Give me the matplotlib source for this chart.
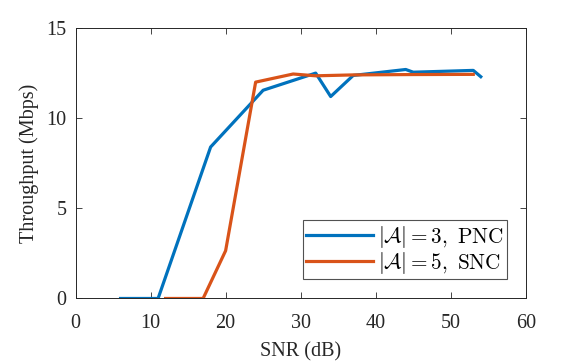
import numpy as np
import matplotlib
matplotlib.use('Agg')
import matplotlib.pyplot as plt

# values
snr_pnc = [6, 11, 18, 25, 32, 34, 37, 44, 45, 53, 54]
thr_pnc = [0, 0, 8.4, 11.55, 12.5, 11.2, 12.37, 12.7, 12.55, 12.65, 12.3]

snr_snc = [12, 17, 20, 24, 29, 32, 37, 45, 53]
thr_snc = [0, 0, 2.65, 12.0, 12.45, 12.35, 12.4, 12.42, 12.43]

labels = [r'$|\mathcal{A}|=3,\ \mathrm{PNC}$', r'$|\mathcal{A}|=5,\ \mathrm{SNC}$']

plt.rcParams['font.family'] = ['Liberation Serif', 'DejaVu Serif']
plt.rcParams['mathtext.fontset'] = 'cm'

fig = plt.figure(figsize=(5.81, 3.64), dpi=100)
ax = fig.add_axes([0.130, 0.180, 0.775, 0.743])

ax.plot(snr_pnc, thr_pnc, color='#0072BD', lw=2.3, label=labels[0])
ax.plot(snr_snc, thr_snc, color='#D95319', lw=2.3, label=labels[1])

ax.set_xlim(0, 60)
ax.set_ylim(0, 15)
ax.set_xticks(np.arange(0, 61, 10))
ax.set_yticks([0, 5, 10, 15])
ax.tick_params(direction='in', top=True, right=True, labelsize=14.5, length=4, width=0.6,
               colors='#262626')
ax.tick_params(axis='x', pad=11.5)
ax.tick_params(axis='y', pad=6.5)
for s in ax.spines.values():
    s.set_linewidth(0.7)
    s.set_color('#262626')

ax.set_xlabel('SNR (dB)', fontsize=14.5, color='#262626', labelpad=6)
ax.set_ylabel('Throughput (Mbps)', fontsize=14.5, color='#262626', labelpad=5)

leg = ax.legend(loc='lower right', fontsize=15.3, frameon=True, fancybox=False,
                edgecolor='#262626', handlelength=3.15, handletextpad=0.25,
                borderpad=0.15, labelspacing=0.0, borderaxespad=0,
                bbox_to_anchor=(0.958, 0.073))
leg.get_frame().set_linewidth(0.8)

fig.savefig('out.png', dpi=100)
